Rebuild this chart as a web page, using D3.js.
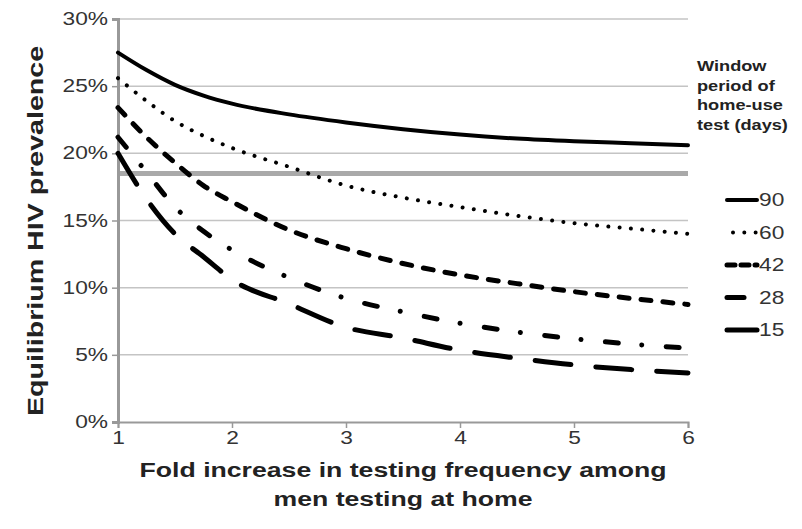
<!DOCTYPE html>
<html>
<head>
<meta charset="utf-8">
<script src="https://cdn.jsdelivr.net/npm/d3@7"></script>
<style>
  body { margin: 0; background: #fff; }
  text { font-family: "Liberation Sans", Arial, sans-serif; fill: #222; }
</style>
</head>
<body>
<div id="chart-area"></div>
<script>
// Data
var folds = [1, 1.25, 1.5, 1.75, 2, 2.5, 3, 3.5, 4, 4.5, 5, 5.5, 6];
var days90 = [27.5, 26.2, 25.1, 24.3, 23.7, 22.9, 22.3, 21.8, 21.4, 21.1, 20.9, 20.75, 20.6];
var days60 = [25.6, 23.9, 22.4, 21.3, 20.4, 19.0, 17.6, 16.7, 16.0, 15.35, 14.8, 14.4, 14.0];
var days42 = [23.4, 21.2, 19.3, 17.6, 16.4, 14.3, 12.9, 11.8, 10.95, 10.3, 9.7, 9.2, 8.75];
var days28 = [21.2, 18.6, 16.0, 14.2, 12.8, 10.75, 9.2, 8.2, 7.35, 6.7, 6.2, 5.8, 5.5];
var days15 = [20.0, 16.6, 14.0, 12.3, 10.6, 8.8, 7.05, 6.25, 5.35, 4.75, 4.25, 3.9, 3.65];
var windowLabels = ["90", "60", "42", "28", "15"];
var baselinePrev = 18.5;
var yTicks = [0, 5, 10, 15, 20, 25, 30];
var xTicks = [1, 2, 3, 4, 5, 6];

var allSeries = [days90, days60, days42, days28, days15];
var dashes = ["none", "0.01 11.3", "10 12", "13 23.5 0.01 24.5", "36 25"];
var widths = [4, 4, 5, 5, 5];

var W = 802, H = 529;
var margin = {top: 19, right: 114, bottom: 107, left: 118},
    width = W - margin.left - margin.right,
    height = H - margin.top - margin.bottom;
var SX = 1.3; // text in the figure is drawn wide

var svg = d3.select("#chart-area").append("svg")
    .attr("width", W)
    .attr("height", H);

var g = svg.append("g")
    .attr("transform", "translate(" + margin.left + "," + margin.top + ")");

var x = d3.scaleLinear().domain([1, 6]).range([0, width]);
var y = d3.scaleLinear().domain([0, 30]).range([height, 0]);

// gridlines
g.selectAll(".grid")
    .data(yTicks.filter(function (d) { return d > 0; }))
    .enter().append("line")
    .attr("x1", 0).attr("x2", width)
    .attr("y1", function (d) { return y(d); })
    .attr("y2", function (d) { return y(d); })
    .style("stroke", "#c4c4c4")
    .style("stroke-width", 1.5);

// baseline prevalence
g.append("line")
    .attr("x1", 0).attr("x2", width)
    .attr("y1", y(baselinePrev)).attr("y2", y(baselinePrev))
    .style("stroke", "#a9a9a9")
    .style("stroke-width", 5);

// axes
var yAxis = d3.axisLeft(y).tickValues(yTicks).tickSize(6)
    .tickFormat(function (d) { return d + "%"; });
var xAxis = d3.axisBottom(x).tickValues(xTicks).tickSize(6)
    .tickFormat(d3.format("d"));

var ya = g.append("g").attr("class", "y axis").call(yAxis);
ya.select(".domain").style("stroke", "#999").style("stroke-width", 3);
ya.selectAll(".tick line").style("stroke", "#999").style("stroke-width", 1.5);
ya.selectAll(".tick text")
    .style("font-size", "17.5px")
    .style("fill", "#333")
    .attr("x", -10 / SX)
    .attr("transform", "scale(" + SX + ",1)");

var xa = g.append("g").attr("class", "x axis")
    .attr("transform", "translate(0," + height + ")")
    .call(xAxis);
xa.select(".domain").style("stroke", "#999").style("stroke-width", 2);
xa.selectAll(".tick line").style("stroke", "#999").style("stroke-width", 1.5);
xa.selectAll(".tick text")
    .style("font-size", "17.5px")
    .style("fill", "#333")
    .attr("y", 10)
    .attr("transform", "scale(" + SX + ",1)");

// curves
var line = d3.line()
    .x(function (d, i) { return x(folds[i]); })
    .y(function (d) { return y(d); })
    .curve(d3.curveMonotoneX);

allSeries.forEach(function (s, k) {
    g.append("path")
        .datum(s)
        .attr("d", line)
        .style("fill", "none")
        .style("stroke", "#000")
        .style("stroke-width", widths[k])
        .style("stroke-linecap", "round")
        .style("stroke-dasharray", dashes[k]);
});

// axis titles
function wideText(parent, tx, ty, rot) {
    return parent.append("text")
        .attr("transform", "translate(" + tx + "," + ty + ")" +
            (rot ? " rotate(" + rot + ")" : "") + " scale(" + SX + ",1)")
        .attr("text-anchor", "middle");
}

wideText(svg, margin.left + width / 2, 477)
    .style("font-size", "20.5px").style("font-weight", "bold")
    .text("Fold increase in testing frequency among");
wideText(svg, margin.left + width / 2, 506)
    .style("font-size", "20.5px").style("font-weight", "bold")
    .text("men testing at home");
wideText(svg, 43, 231, -90)
    .style("font-size", "22px").style("font-weight", "bold")
    .text("Equilibrium HIV prevalence");

// legend
var header = ["Window", "period of", "home-use", "test (days)"];
header.forEach(function (t, i) {
    svg.append("text")
        .attr("transform", "translate(697," + (71 + i * 19.5) + ") scale(" + SX + ",1)")
        .style("font-size", "14px").style("font-weight", "bold")
        .text(t);
});

var legY = d3.scalePoint().domain(windowLabels).range([200, 330]);
windowLabels.forEach(function (lab, k) {
    var ly = legY(lab);
    svg.append("line")
        .attr("x1", k === 1 ? 733 : 727).attr("x2", 757)
        .attr("y1", ly).attr("y2", ly)
        .style("stroke", "#000")
        .style("stroke-width", widths[k])
        .style("stroke-linecap", "round")
        .style("stroke-dasharray", k === 2 ? "8 6" : (k === 3 ? "17 40" : dashes[k]));
    svg.append("text")
        .attr("transform", "translate(759," + (ly + 6) + ") scale(" + SX + ",1)")
        .style("font-size", "17.5px")
        .style("fill", "#333")
        .text(lab);
});
</script>
</body>
</html>
